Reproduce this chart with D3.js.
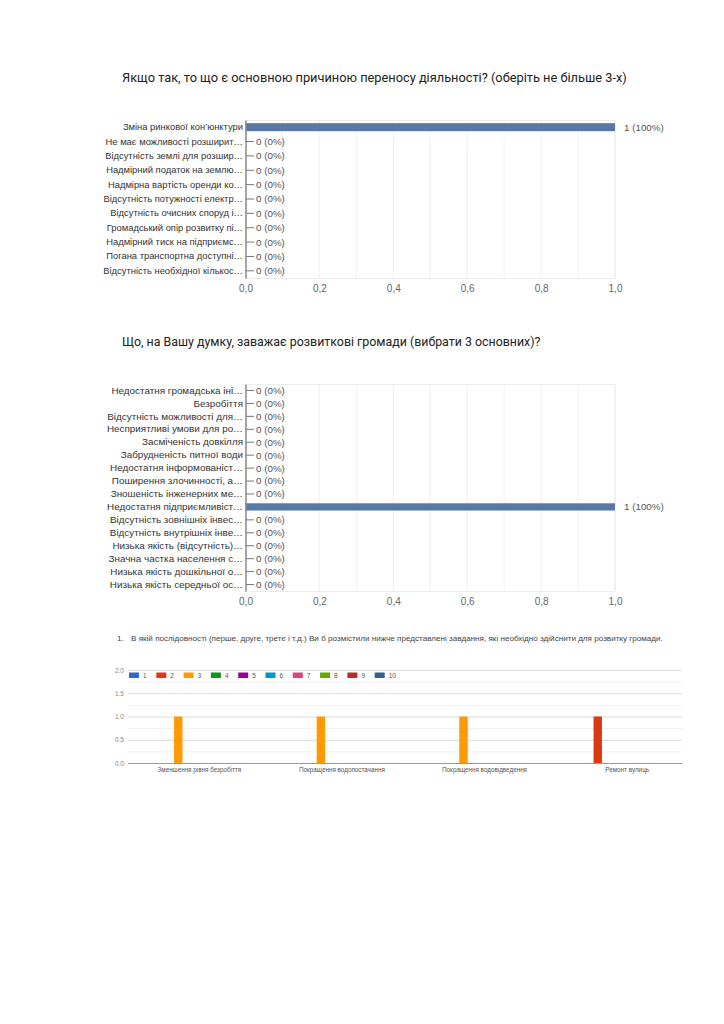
<!DOCTYPE html>
<html><head><meta charset="utf-8">
<script src="https://cdn.jsdelivr.net/npm/d3@7"></script>
<style>
html,body{margin:0;padding:0;background:#fff;}
svg{display:block;font-family:"Liberation Sans",Arial,sans-serif;}
</style></head>
<body>
<script>
// ---------- DATA ----------
const title1 = "Якщо так, то що є основною причиною переносу діяльності? (оберіть не більше 3-х)";
const cats1 = ["Зміна ринкової кон’юнктури","Не має можливості розширит…","Відсутність землі для розшир…","Надмірний податок на землю…","Надмірна вартість оренди ко…","Відсутність потужності електр…","Відсутність очисних споруд і…","Громадський опір розвитку пі…","Надмірний тиск на підприємс…","Погана транспортна доступні…","Відсутність необхідної кількос…"];
const vals1 = [1,0,0,0,0,0,0,0,0,0,0];
const pct1 = ["100%","0%","0%","0%","0%","0%","0%","0%","0%","0%","0%"];

const title2 = "Що, на Вашу думку, заважає розвиткові громади (вибрати 3 основних)?";
const cats2 = ["Недостатня громадська іні…","Безробіття","Відсутність можливості для…","Несприятливі умови для ро…","Засміченість довкілля","Забрудненість питної води","Недостатня інформованіст…","Поширення злочинності, а…","Зношеність інженерних ме…","Недостатня підприємливіст…","Відсутність зовнішніх інвес…","Відсутність внутрішніх інве…","Низька якість (відсутність)…","Значна частка населення с…","Низька якість дошкільної о…","Низька якість середньої ос…"];
const vals2 = [0,0,0,0,0,0,0,0,0,1,0,0,0,0,0,0];
const pct2 = ["0%","0%","0%","0%","0%","0%","0%","0%","0%","100%","0%","0%","0%","0%","0%","0%"];
const xTicks12 = [0,0.2,0.4,0.6,0.8,1.0];

const title3num = "1.";
const title3 = "В якій послідовності (перше, друге, третє і т.д.) Ви б розмістили нижче представлені завдання, які необхідно здійснити для розвитку громади.";
const cats3 = ["Зменшення рівня безробіття","Покращення водопостачання","Покращення водовідведення","Ремонт вулиць"];
const series3 = ["1","2","3","4","5","6","7","8","9","10"];
const s1 = [0,0,0,0];
const s2 = [0,0,0,1];
const s3 = [1,1,1,0];
const s4 = [0,0,0,0];
const s5 = [0,0,0,0];
const s6 = [0,0,0,0];
const s7 = [0,0,0,0];
const s8 = [0,0,0,0];
const s9 = [0,0,0,0];
const s10 = [0,0,0,0];
const seriesVals3 = [s1,s2,s3,s4,s5,s6,s7,s8,s9,s10];
const colors3 = ["#3366cc","#dc3912","#ff9900","#109618","#990099","#0099c6","#dd4477","#66aa00","#b82e2e","#316395"];
const yTicks3 = [0,0.5,1,1.5,2];

// ---------- DRAW ----------
const svg = d3.select("body").append("svg").attr("width",724).attr("height",1024);
const fmt = d => d3.format(".1f")(d).replace(".",",");
const barColor = "#5878a8";

function hbar(cfg){
  const g = svg.append("g");
  g.append("text").attr("x",122).attr("y",cfg.titleY)
    .style("font-family","Roboto, 'Noto Sans', sans-serif").style("font-size",cfg.titleSize+"px").attr("fill","#222")
    .text(cfg.title);
  const x = d3.scaleLinear().domain([0,1]).range([245.5,615]);
  const y = d3.scaleBand().domain(cfg.cats).range([cfg.top,cfg.bottom]).paddingInner(0.44).paddingOuter(0.22);
  // grid
  g.append("g").selectAll("line").data(d3.range(1,11).map(i=>i/10)).join("line")
    .attr("x1",d=>x(d)).attr("x2",d=>x(d)).attr("y1",cfg.top).attr("y2",cfg.bottom)
    .attr("stroke",d=> d===1? "#e3e3e3":"#f1f1f1").attr("stroke-width",1);
  g.append("line").attr("x1",x(0)).attr("x2",x(1)).attr("y1",cfg.top+0.5).attr("y2",cfg.top+0.5).attr("stroke","#ececec");
  g.append("line").attr("x1",x(0)).attr("x2",x(1)).attr("y1",cfg.bottom+0.5).attr("y2",cfg.bottom+0.5).attr("stroke","#ececec");
  // bars
  g.append("g").selectAll("rect").data(cfg.vals).join("rect")
    .attr("x",x(0)).attr("y",(d,i)=>y(cfg.cats[i]))
    .attr("width",d=>x(d)-x(0)).attr("height",y.bandwidth()).attr("fill",barColor);
  // zero stubs
  g.append("g").selectAll("line").data(cfg.vals.map((v,i)=>({v,i})).filter(d=>d.v===0)).join("line")
    .attr("x1",x(0)).attr("x2",x(0)+8.5)
    .attr("y1",d=>y(cfg.cats[d.i])+y.bandwidth()/2).attr("y2",d=>y(cfg.cats[d.i])+y.bandwidth()/2)
    .attr("stroke","#777").attr("stroke-width",1);
  // value labels
  g.append("g").selectAll("text").data(cfg.vals).join("text")
    .attr("x",d=> d===0 ? x(0)+10.5 : x(d)+9)
    .attr("y",(d,i)=>y(cfg.cats[i])+y.bandwidth()/2).attr("dy","0.35em")
    .style("font-size","9.8px").attr("fill","#555")
    .text((d,i)=> d+" ("+cfg.pct[i]+")");
  // left axis
  const ya = g.append("g").attr("transform",`translate(${x(0)},0)`).call(d3.axisLeft(y).tickSize(0).tickPadding(2.5));
  ya.select(".domain").attr("stroke","#888").attr("stroke-width",1.5);
  ya.selectAll("text").style("font-size",cfg.labelSize+"px").attr("fill","#333").style("font-family","'Liberation Sans',Arial,sans-serif");
  // bottom axis
  const xa = g.append("g").attr("transform",`translate(0,${cfg.bottom})`)
    .call(d3.axisBottom(x).tickValues(xTicks12).tickFormat(fmt).tickSize(0).tickPadding(7));
  xa.select(".domain").remove();
  xa.selectAll("text").style("font-size","10px").attr("fill","#666").style("font-family","'Liberation Sans',Arial,sans-serif");
}

hbar({title:title1,titleY:82,titleSize:12.8,labelSize:9.4,cats:cats1,vals:vals1,pct:pct1,top:120,bottom:278});
hbar({title:title2,titleY:346,titleSize:12.4,labelSize:9.9,cats:cats2,vals:vals2,pct:pct2,top:384,bottom:591});

// chart 3
const g3 = svg.append("g");
g3.append("text").attr("x",117).attr("y",641).style("font-size","8.1px").attr("fill","#444").text(title3num);
g3.append("text").attr("x",131).attr("y",641).style("font-size","8.1px").attr("fill","#444").text(title3);

const y3 = d3.scaleLinear().domain([0,2]).range([763,670]);
const x3 = d3.scaleBand().domain(cats3).range([128,698.5]).paddingInner(0.41).paddingOuter(0.205);
const xs = d3.scaleBand().domain(series3).range([0,x3.bandwidth()]);
const gridR = 682;
// minor grid
g3.append("g").selectAll("line").data(d3.range(0,2.01,0.25)).join("line")
  .attr("x1",128).attr("x2",gridR).attr("y1",d=>y3(d)+0.5).attr("y2",d=>y3(d)+0.5)
  .attr("stroke",d=> d===0 ? "#999" : (d%0.5===0 ? "#dcdcdc" : "#f0f0f0")).attr("stroke-width",1);
// bars
series3.forEach((s,si)=>{
  g3.append("g").selectAll("rect").data(seriesVals3[si]).join("rect")
    .attr("x",(d,i)=>x3(cats3[i])+xs(s)).attr("y",d=>y3(d))
    .attr("width",xs.bandwidth()).attr("height",d=>y3(0)-y3(d)).attr("fill",colors3[si]);
});
// y axis labels
const ya3 = g3.append("g").attr("transform","translate(124,0)")
  .call(d3.axisLeft(y3).tickValues(yTicks3).tickFormat(d=>d3.format(".1f")(d)).tickSize(0).tickPadding(0));
ya3.select(".domain").remove();
ya3.selectAll("text").style("font-size","6.5px").attr("fill","#888");
// x axis labels
const xa3 = g3.append("g").attr("transform","translate(0,763)")
  .call(d3.axisBottom(x3).tickSize(0).tickPadding(5));
xa3.select(".domain").remove();
xa3.selectAll("text").style("font-size","6.3px").attr("fill","#555");
// legend
const lg = g3.append("g").selectAll("g").data(series3).join("g")
  .attr("transform",(d,i)=>`translate(${129+i*27.3},672.5)`);
lg.append("rect").attr("width",10).attr("height",5.5).attr("fill",(d,i)=>colors3[i]);
lg.append("text").attr("x",14).attr("y",2.75).attr("dy","0.35em").style("font-size","6.5px").attr("fill","#555").text(d=>d);
</script>
</body></html>
